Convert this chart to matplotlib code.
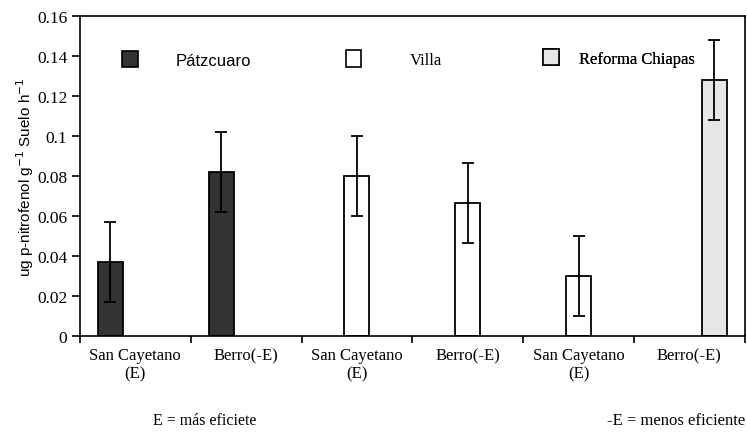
import numpy as np
import matplotlib.pyplot as plt
from matplotlib.patches import Patch

# data
categories = ["San Cayetano\n(E)", "Berro(-E)", "San Cayetano\n(E)",
              "Berro(-E)", "San Cayetano\n(E)", "Berro(-E)"]
series_names = ["Pátzcuaro", "Villa", "Reforma Chiapas"]
patzcuaro = [0.037, 0.082, np.nan, np.nan, np.nan, np.nan]
villa = [np.nan, np.nan, 0.080, 0.0665, 0.030, np.nan]
reforma = [np.nan, np.nan, np.nan, np.nan, np.nan, 0.128]
err = [0.02, 0.02, 0.02, 0.02, 0.02, 0.02]
yticks = [0, 0.02, 0.04, 0.06, 0.08, 0.1, 0.12, 0.14, 0.16]
ytick_labels = ["0", "0.02", "0.04", "0.06", "0.08", "0.1", "0.12", "0.14", "0.16"]

colors = ["#333333", "white", "#e6e6e6"]
serif = "Liberation Serif"
sans = "Liberation Sans"

fig = plt.figure(figsize=(7.47, 4.39), dpi=100)
ax = fig.add_axes([0.107, 0.232, 0.89, 0.729])

x = np.arange(len(categories))
w = 0.225
for i, vals in enumerate([patzcuaro, villa, reforma]):
    pos = x + (i - 1) * w
    ax.bar(pos, vals, width=w, color=colors[i], edgecolor="black", linewidth=1.3)
    ax.errorbar(pos, vals, yerr=err, fmt="none", ecolor="black",
                elinewidth=1.3, capsize=4, capthick=1.3)

ax.set_xlim(-0.5, len(categories) - 0.5)
ax.set_ylim(0, 0.16)
ax.set_yticks(yticks)
ax.set_yticklabels(ytick_labels, fontfamily=serif, fontsize=12.5)
ax.tick_params(axis="y", direction="out", length=6, width=1.2, pad=3)

ax.set_xticks(np.arange(len(categories) + 1) - 0.5)
ax.set_xticklabels([])
ax.tick_params(axis="x", which="major", direction="out", length=5, width=1.2)
ax.set_xticks(x, minor=True)
ax.set_xticklabels(categories, minor=True, fontfamily=serif, fontsize=12)
ax.tick_params(axis="x", which="minor", length=0, pad=8)

for s in ax.spines.values():
    s.set_linewidth(1.2)

ax.set_ylabel("ug p-nitrofenol g$^{-1}$ Suelo h$^{-1}$", fontfamily=sans,
              fontsize=11, labelpad=1)

# legend entries placed separately, as in the reference
legend_spots = [(0.041, 0.865, sans, 2.26), (0.377, 0.865, serif, 2.9),
                (0.674, 0.87, serif, 1.2)]
for i, (lx, ly, fam, pad) in enumerate(legend_spots):
    h = Patch(facecolor=colors[i], edgecolor="black", linewidth=1.2)
    leg = ax.legend([h], [series_names[i]], loc="center left",
                    bbox_to_anchor=(lx, ly), frameon=False, handlelength=0.95,
                    handleheight=1.15, handletextpad=pad,
                    prop={"family": fam, "size": 12})
    ax.add_artist(leg)

fig.text(0.205, 0.033, "E = más eficiete", fontfamily=serif, fontsize=11.5)
fig.text(0.812, 0.033, "-E = menos eficiente", fontfamily=serif, fontsize=12)

fig.savefig("out.png", dpi=100)
